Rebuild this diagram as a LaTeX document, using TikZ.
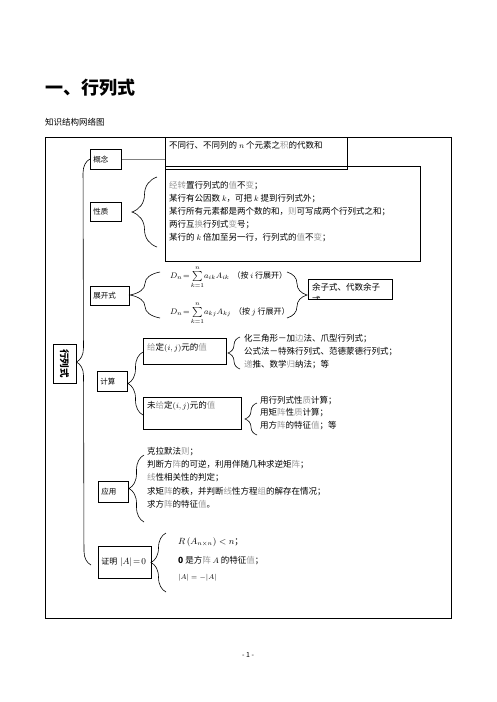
\documentclass[tikz,border=0pt]{standalone}
\usepackage{fontspec}
\setmainfont{Noto Sans CJK SC}
\usetikzlibrary{decorations.pathreplacing}
\definecolor{lg}{gray}{0.6}
\newcommand\gy[1]{\textcolor{lg}{#1}}
\newcommand\fs{\fontsize{8.5}{13}\selectfont}
\begin{document}
\begin{tikzpicture}[x=1pt,y=-1pt,
 box/.style={draw, line width=0.8pt, inner sep=0pt, anchor=north west},
 txt/.style={anchor=north west, inner sep=0pt, font=\fs, align=left},
 lbl/.style={draw, line width=0.8pt, anchor=north west, inner xsep=3pt, inner ysep=0pt, align=left, font=\fontsize{7.5}{9}\selectfont},
 brc/.style={decorate, decoration={brace, amplitude=#1}, line width=0.6pt},
 fml/.style={anchor=west, inner sep=0pt, font=\fontsize{9}{10}\selectfont}]
\useasboundingbox (0,0) rectangle (496,702);
% title
\node[anchor=west, inner sep=0pt, font=\bfseries\fontsize{18}{20}\selectfont] (title) at (45,88) {一、行列式};
\node[anchor=west, inner sep=0pt, font=\fontsize{8.5}{10}\selectfont] (sub) at (45,122) {知识结构网络图};
% frame
\node[box, minimum width=406pt, minimum height=481pt] (frame) at (45,137) {};
% root
\node[draw, line width=0.8pt, rotate=-90, minimum width=39pt, minimum height=23pt, inner sep=0pt, font=\bfseries\fontsize{9.5}{10}\selectfont] (root) at (64.5,363.5) {行列式};
\draw[brc=14] (91,565) -- (90,159);
% concept
\node[lbl, text width=25pt, minimum height=20pt] (gn) at (90,149) {概念};
\node[box, minimum width=182pt, minimum height=32pt] (def) at (165,137) {};
\node[txt] (deft) at (169,141) {不同行、不同列的 $n$ 个元素之\gy{积}的代数和};
\draw[gray, line width=0.8pt] (gn.east) -- (gn.east -| def.west);
% properties
\node[lbl, text width=25pt, minimum height=19pt] (xz) at (90,202) {性质};
\draw[brc=25] (157,247) -- (157,177);
\node[box, minimum width=255pt, minimum height=95pt] (prop) at (165,166) {};
\node[txt] (propt) at (169,181) {\gy{经转}置行列式的\gy{值}不\gy{变}；\\
某行有公因数 $k$，可把 $k$ 提到行列式外；\\
某行所有元素都是两个数的和，\gy{则}可写成两个行列式之和；\\
两行互\gy{换}行列式\gy{变}号；\\
某行的 $k$ 倍加至另一行，行列式的\gy{值}不\gy{变}；};
% expansion
\node[lbl, text width=33pt, minimum height=19pt] (zk) at (90,286) {展开式};
\draw[brc=30] (160,318) -- (160,272);
\node[fml, font=\fontsize{8}{9}\selectfont] (f1) at (170,277) {$D_n\!=\!\sum\limits_{k=1}^{n}\!a_{ik}A_{ik}$\hspace{3pt}（按 $i$ 行展开）};
\node[fml, font=\fontsize{8}{9}\selectfont] (f2) at (170,313) {$D_n\!=\!\sum\limits_{k=1}^{n}\!a_{kj}A_{kj}$\hspace{3pt}（按 $j$ 行展开）};
\draw[brc=20] (287,272) -- (287,318);
\node[box, minimum width=84pt, minimum height=20pt] (yu) at (308,279) {};
\begin{scope}
\clip (308,279) rectangle (392,299);
\node[txt] (yut) at (312,283) {余子式、代数余子\\式};
\end{scope}
% compute
\node[lbl, text width=24pt, minimum height=20pt] (js) at (97,371) {计算};
\draw[brc=15] (143,415) -- (143,352);
\node[box, minimum width=83pt, minimum height=26pt] (gd) at (143,338) {};
\node[txt] (gdt) at (147,343) {\gy{给}定$(i,j)$元的\gy{值}};
\draw[brc=12] (240,369) -- (240,337);
\node[txt] (gdl) at (244,334) {化三角形－加\gy{边}法、爪型行列式；\\
公式法－特殊行列式、范德蒙德行列式；\\
\gy{递}推、数学\gy{归}纳法；等};
\node[box, minimum width=98pt, minimum height=32pt] (wgd) at (143,397) {};
\node[txt] (wgdt) at (147,401) {未\gy{给}定$(i,j)$元的\gy{值}};
\draw[brc=12] (257,435) -- (257,403);
\node[txt, font=\fontsize{8.5}{12.5}\selectfont] (wgdl) at (260,396) {用行列式性\gy{质}计算；\\
用矩\gy{阵}性\gy{质}计算；\\
用方\gy{阵}的特征\gy{值}；等};
% application
\node[lbl, text width=24pt, minimum height=21pt] (yy) at (98,481) {应用};
\draw[brc=15] (144,522) -- (144,455);
\node[txt, font=\fontsize{8.5}{13.2}\selectfont] (yyl) at (147,447) {克拉默法\gy{则}；\\
判断方\gy{阵}的可逆，利用伴随几种求逆矩\gy{阵}；\\
\gy{线}性相关性的判定；\\
求矩\gy{阵}的秩，并判断\gy{线}性方程\gy{组}的解存在情况；\\
求方\gy{阵}的特征\gy{值}。};
% proof
\node[lbl, text width=47pt, minimum height=32pt, font=\fontsize{8}{9}\selectfont] (zm) at (98,546) {证明 {\fontsize{9.5}{10}\selectfont$\left|A\right|\!=\!0$}};
\draw[brc=15] (166,592) -- (166,533);
\node[fml] (p1) at (178,542) {$R\left(A_{n\times n}\right)<n$；};
\node[fml, font=\fontsize{8.5}{10}\selectfont] (p2) at (178,561) {$\mathbf{0}$ 是方\gy{阵} $A$ 的特征\gy{值}；};
\node[fml, font=\fontsize{7}{8}\selectfont] (p3) at (178,578) {$|A|=-|A|$};
% page number
\node[font=\fontsize{7}{8}\selectfont, inner sep=0pt] (pg) at (248,655) {- 1 -};
\end{tikzpicture}
\end{document}
